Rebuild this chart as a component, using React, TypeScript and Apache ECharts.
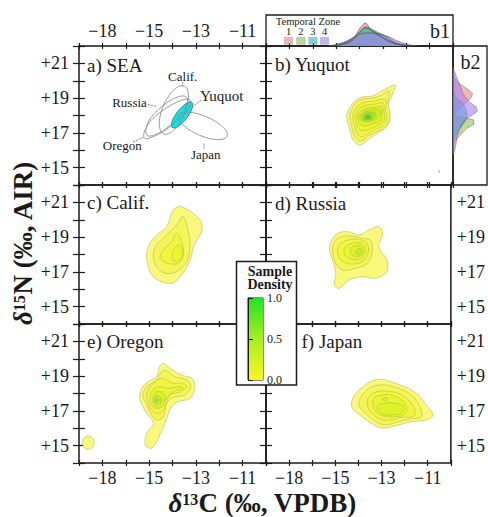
import React, { useEffect, useRef } from 'react';
import * as echarts from 'echarts';

const FONT = '"Liberation Serif", "Times New Roman", serif';
const INK = '#1a1a1a';

// ---- axes ----
const xLabelC = [-18, -15, -13, -11];
const xLabelPos = [1, 3, 5, 7];
const xTickLabels = ['\u221218', '\u221215', '\u221213', '\u221211'];
const yTickVals = [15, 17, 19, 21];
const yTickLabels = ['+15', '+17', '+19', '+21'];
const X_MIN = 0, X_MAX = 8, Y_MIN = 14, Y_MAX = 22;

function xPos(c: number) {
  const n = xLabelC.length;
  let i = 0;
  if (c >= xLabelC[n - 1]) i = n - 2;
  else if (c > xLabelC[0]) { while (c > xLabelC[i + 1]) i++; }
  const c0 = xLabelC[i], c1 = xLabelC[i + 1], p0 = xLabelPos[i], p1 = xLabelPos[i + 1];
  return p0 + (c - c0) * (p1 - p0) / (c1 - c0);
}

// ---- a) SEA ellipses (Yuquot first) ----
const seaNames = ['Yuquot', 'Calif.', 'Russia', 'Oregon', 'Japan'];
const seaC = [-13.59, -13.94, -14.28, -14.28, -12.70];
const seaN = [18.03, 18.32, 17.97, 17.80, 17.40];
const seaA = [0.84, 1.45, 1.40, 1.50, 1.20];
const seaB = [0.26, 0.50, 0.48, 0.44, 0.53];
const seaAngle = [62, 74, 53, 47, -33];

// ---- contour polygons [δ13C, δ15N] with level index ----
const yuquotContours: any[] = [
  [0, [[-14.55,18.03],[-14.28,18.72],[-13.89,19.06],[-13.47,19.12],[-13.04,19.41],[-12.48,19.76],[-12.61,19.18],[-12.78,18.60],[-12.70,17.74],[-12.91,17.28],[-13.21,16.99],[-13.55,16.70],[-13.98,16.30],[-14.28,16.59],[-14.41,17.17],[-14.53,17.74]]],
  [1, [[-14.41,18.03],[-14.19,18.66],[-13.85,18.95],[-13.42,19.01],[-13.04,19.18],[-12.74,19.41],[-12.78,18.78],[-12.70,17.86],[-12.87,17.34],[-13.21,17.11],[-13.55,16.88],[-13.94,16.53],[-14.19,16.76],[-14.32,17.28]]],
  [2, [[-14.28,18.03],[-14.06,18.55],[-13.76,18.78],[-13.38,18.83],[-13.04,18.95],[-12.87,18.89],[-12.87,18.20],[-12.82,17.74],[-12.99,17.40],[-13.29,17.22],[-13.59,16.99],[-13.89,16.76],[-14.11,16.99],[-14.24,17.51]]],
  [3, [[-14.15,18.03],[-13.98,18.43],[-13.68,18.60],[-13.34,18.66],[-12.99,18.72],[-12.95,18.20],[-12.95,17.68],[-13.21,17.45],[-13.55,17.22],[-13.85,17.11],[-14.06,17.28],[-14.15,17.63]]],
  [4, [[-14.06,18.03],[-13.89,18.32],[-13.64,18.43],[-13.29,18.49],[-13.04,18.49],[-13.04,18.03],[-13.12,17.68],[-13.47,17.51],[-13.76,17.40],[-13.98,17.51],[-14.06,17.74]]],
  [5, [[-13.98,17.97],[-13.81,18.26],[-13.55,18.32],[-13.21,18.37],[-13.08,18.20],[-13.21,17.86],[-13.47,17.68],[-13.76,17.63],[-13.94,17.74]]],
  [6, [[-13.89,17.97],[-13.72,18.20],[-13.51,18.20],[-13.34,18.14],[-13.38,17.86],[-13.59,17.74],[-13.81,17.74]]],
  [7, [[-13.81,17.91],[-13.68,18.09],[-13.51,18.03],[-13.51,17.80],[-13.68,17.74],[-13.81,17.80]]],
  [8, [[-13.72,17.91],[-13.64,18.03],[-13.55,17.91],[-13.64,17.80]]],
];
const califContours: any[] = [
  [0, [[-13.61,20.75],[-12.82,19.99],[-12.75,19.31],[-13.04,18.66],[-13.25,17.68],[-13.55,16.94],[-13.98,16.36],[-14.46,16.43],[-14.89,16.82],[-15.15,17.68],[-15.06,18.45],[-14.68,19.12],[-14.25,19.60],[-13.97,20.56]]],
  [1, [[-13.54,20.18],[-13.32,19.31],[-13.25,18.45],[-13.39,17.59],[-13.82,17.01],[-14.32,16.92],[-14.68,17.30],[-14.82,17.97],[-14.68,18.55],[-14.25,19.12],[-13.82,19.70]]],
  [2, [[-13.82,19.22],[-13.61,18.74],[-13.54,17.97],[-13.75,17.49],[-14.18,17.49],[-14.53,17.78],[-14.39,18.26],[-14.03,18.74]]],
  [3, [[-13.75,18.55],[-13.56,18.16],[-13.68,17.68],[-13.97,17.64],[-13.99,18.16]]],
];
const russiaContours: any[] = [
  [0, [[-15.28,18.74],[-14.91,19.22],[-14.41,19.31],[-13.98,19.12],[-13.55,19.41],[-13.12,19.60],[-12.95,19.22],[-13.12,18.45],[-12.77,17.68],[-12.77,17.01],[-13.26,16.63],[-13.84,16.72],[-14.41,16.53],[-14.83,16.05],[-15.07,16.24],[-14.98,16.92],[-15.18,17.68],[-15.39,18.26]]],
  [1, [[-15.07,18.74],[-14.76,19.02],[-14.27,19.06],[-13.84,18.93],[-13.48,18.83],[-13.41,18.16],[-13.62,17.49],[-14.12,17.21],[-14.69,17.11],[-14.98,17.49],[-15.18,18.16]]],
  [2, [[-14.83,18.55],[-14.48,18.83],[-13.98,18.87],[-13.62,18.64],[-13.58,18.07],[-13.84,17.59],[-14.33,17.45],[-14.76,17.68],[-14.91,18.16]]],
  [3, [[-14.55,18.45],[-14.12,18.68],[-13.76,18.55],[-13.69,18.07],[-13.98,17.72],[-14.41,17.78],[-14.62,18.07]]],
  [4, [[-14.33,18.36],[-13.98,18.55],[-13.76,18.26],[-13.91,17.91],[-14.27,17.97]]],
  [5, [[-14.09,18.26],[-13.91,18.36],[-13.84,18.10],[-14.05,17.97]]],
];
const oregonContours: any[] = [
  [0, [[-14.39,19.74],[-14.11,19.45],[-13.61,19.06],[-13.18,18.87],[-13.04,18.39],[-13.25,17.72],[-13.75,17.53],[-14.03,17.24],[-14.25,16.57],[-14.39,16.09],[-14.61,15.42],[-14.89,14.85],[-15.25,15.04],[-15.15,15.71],[-14.82,16.28],[-15.15,16.86],[-15.59,17.63],[-15.48,18.30],[-15.06,18.68],[-14.68,18.97],[-14.56,19.54]]],
  [0, [[-19.27,15.17],[-19.16,15.45],[-18.90,15.56],[-18.64,15.45],[-18.53,15.17],[-18.64,14.89],[-18.90,14.78],[-19.16,14.89]]],
  [1, [[-14.32,19.35],[-13.89,18.97],[-13.39,18.78],[-13.22,18.39],[-13.47,17.91],[-13.97,17.78],[-14.25,17.44],[-14.39,16.66],[-14.68,16.47],[-14.89,16.76],[-15.15,17.34],[-15.41,17.91],[-15.15,18.39],[-14.68,18.78],[-14.46,19.26]]],
  [2, [[-14.46,18.87],[-13.97,18.59],[-13.54,18.59],[-13.39,18.39],[-13.68,18.10],[-14.11,17.91],[-14.32,17.24],[-14.53,16.86],[-14.82,16.95],[-15.06,17.44],[-15.15,18.01],[-14.89,18.49]]],
  [3, [[-14.61,18.39],[-14.18,18.30],[-13.68,18.39],[-13.54,18.30],[-13.97,18.10],[-14.32,17.63],[-14.53,17.15],[-14.82,17.21],[-14.96,17.63],[-14.89,18.10]]],
  [4, [[-14.68,18.10],[-14.39,18.01],[-14.32,17.63],[-14.46,17.24],[-14.75,17.28],[-14.85,17.67]]],
  [5, [[-14.71,17.86],[-14.50,17.78],[-14.50,17.44],[-14.71,17.40],[-14.79,17.63]]],
  [6, [[-14.68,17.72],[-14.58,17.63],[-14.68,17.49],[-14.76,17.63]]],
];
const japanContours: any[] = [
  [0, [[-13.98,18.20],[-13.48,18.68],[-12.98,18.82],[-12.41,18.59],[-11.84,18.30],[-11.41,17.91],[-11.06,17.34],[-10.77,16.76],[-11.06,16.47],[-11.70,16.38],[-12.27,16.19],[-12.91,16.00],[-13.34,16.19],[-13.84,16.66],[-14.27,17.15],[-14.27,17.63]]],
  [1, [[-13.84,17.91],[-13.41,18.39],[-12.84,18.49],[-12.27,18.30],[-11.70,17.91],[-11.34,17.24],[-11.27,16.66],[-11.77,16.53],[-12.27,16.38],[-12.84,16.19],[-13.26,16.38],[-13.69,16.86],[-13.98,17.34]]],
  [2, [[-13.55,17.82],[-13.20,18.10],[-12.77,18.14],[-12.27,18.01],[-11.84,17.63],[-11.55,17.05],[-11.63,16.66],[-12.13,16.63],[-12.55,16.47],[-13.05,16.51],[-13.41,16.86],[-13.62,17.34]]],
  [3, [[-13.34,17.72],[-12.98,17.91],[-12.55,17.91],[-12.13,17.63],[-11.91,17.15],[-12.05,16.76],[-12.55,16.66],[-13.05,16.76],[-13.34,17.15]]],
  [4, [[-13.20,17.24],[-12.91,17.44],[-12.41,17.44],[-12.05,17.28],[-12.13,16.86],[-12.55,16.76],[-12.98,16.82]]],
  [4, [[-12.97,17.68],[-12.84,17.76],[-12.71,17.68],[-12.84,17.60]]],
];
const yuquotStray = [[-10.6, 14.77]];

// ---- marginal densities b1 (δ13C) and b2 (δ15N) by temporal zone ----
const zoneNames = ['1', '2', '3', '4'];
const zoneColors = ['#f08585', '#8fc04e', '#2fb8b8', '#a282f0'];
const b1C = [-15.5,-15.25,-15,-14.75,-14.5,-14.25,-14,-13.75,-13.5,-13.25,-13,-12.75,-12.5,-12.25,-12,-11.75,-11.5];
const b1Zone1 = [0,0,0.02,0.05,0.12,0.25,0.55,0.74,0.5,0.36,0.26,0.17,0.1,0.05,0.02,0,0];
const b1Zone2 = [0,0.01,0.03,0.08,0.15,0.28,0.45,0.58,0.52,0.4,0.28,0.16,0.08,0.03,0.01,0,0];
const b1Zone3 = [0,0,0.02,0.05,0.1,0.2,0.42,0.62,0.55,0.45,0.36,0.24,0.12,0.05,0.02,0,0];
const b1Zone4 = [0,0.02,0.05,0.1,0.18,0.28,0.38,0.42,0.42,0.4,0.36,0.3,0.2,0.12,0.06,0.02,0];
const b2N = [15.75,16,16.25,16.5,16.75,17,17.25,17.5,17.75,18,18.25,18.5,18.75,19,19.25,19.5,19.75,20,20.25,20.5,20.75];
const b2Zone1 = [0,0,0,0,0,0,0,0,0.02,0.05,0.12,0.25,0.4,0.52,0.58,0.45,0.25,0.1,0.03,0,0];
const b2Zone2 = [0,0,0,0.06,0.15,0.28,0.4,0.62,0.6,0.12,0.02,0,0,0,0,0,0,0,0,0,0];
const b2Zone3 = [0,0,0,0,0.05,0.12,0.2,0.3,0.38,0.42,0.4,0.35,0.25,0.1,0.03,0,0,0,0,0,0];
const b2Zone4 = [0.02,0.05,0.08,0.1,0.12,0.15,0.2,0.25,0.35,0.55,0.72,0.68,0.5,0.38,0.3,0.25,0.2,0.15,0.1,0.05,0];

// ---- colour bar ----
const densityTicks = [0, 0.5, 1];

const levelFill = ['#f8f87a', '#f5f556', '#f1f53e', '#e9f52e', '#dcf326', '#c6ef22', '#a2e920', '#70e020', '#38d828'];
const contourStroke = '#b2b262';

const PANELS = [
  { left: 79, top: 46 }, { left: 266, top: 46 },
  { left: 79, top: 185 }, { left: 266, top: 185 },
  { left: 79, top: 324 }, { left: 266, top: 324 },
];
const PW = 187, PH = 139;

function App() {
  const ref = useRef<HTMLDivElement>(null);
  useEffect(() => {
    const chart = echarts.init(ref.current!, null, { renderer: 'svg' });

    const grids: any[] = PANELS.map(p => ({
      left: p.left, top: p.top, width: PW, height: PH,
      show: true, borderColor: INK, borderWidth: 1.5, backgroundColor: 'transparent',
    }));
    grids.push({ left: 266, top: 15, width: 187, height: 31, show: true, borderColor: INK, borderWidth: 1.3 });
    grids.push({ left: 453, top: 46, width: 34, height: 139, show: true, borderColor: INK, borderWidth: 1.3 });
    grids.push({ left: 248, top: 298, width: 15, height: 82, show: true, borderColor: INK, borderWidth: 1, z: 60 });

    const tickStyle = { show: true, inside: true, length: 6, lineStyle: { color: INK, width: 1.2 } };
    const xFmt = (v: number) => { const i = xLabelPos.indexOf(Math.round(v * 1000) / 1000); return i >= 0 ? xTickLabels[i] : ''; };
    const yFmt = (v: number) => { const i = yTickVals.indexOf(Math.round(v * 1000) / 1000); return i >= 0 ? yTickLabels[i] : ''; };
    const labelStyle = { fontSize: 18, fontFamily: FONT, color: INK };

    const xAxes: any[] = [];
    const yAxes: any[] = [];
    PANELS.forEach((_, p) => {
      xAxes.push({ type: 'value', gridIndex: p, position: 'bottom', min: X_MIN, max: X_MAX, interval: 1, offset: 3,
        axisLine: { show: false }, axisTick: tickStyle, splitLine: { show: false },
        axisLabel: { show: p >= 4, margin: 3, formatter: xFmt, ...labelStyle } });
      xAxes.push({ type: 'value', gridIndex: p, position: 'top', min: X_MIN, max: X_MAX, interval: 1, offset: 3,
        axisLine: { show: false }, axisTick: tickStyle, splitLine: { show: false },
        axisLabel: { show: p === 0, margin: 3, formatter: xFmt, ...labelStyle } });
      yAxes.push({ type: 'value', gridIndex: p, position: 'left', min: Y_MIN, max: Y_MAX, interval: 1, offset: 3,
        axisLine: { show: false }, axisTick: tickStyle, splitLine: { show: false },
        axisLabel: { show: p % 2 === 0, margin: 7, formatter: yFmt, ...labelStyle } });
      yAxes.push({ type: 'value', gridIndex: p, position: 'right', min: Y_MIN, max: Y_MAX, interval: 1, offset: 3,
        axisLine: { show: false }, axisTick: tickStyle, splitLine: { show: false },
        axisLabel: { show: p === 3 || p === 5, margin: 3, formatter: yFmt, ...labelStyle } });
    });
    // b1
    xAxes.push({ type: 'value', gridIndex: 6, min: X_MIN, max: X_MAX, show: false });
    yAxes.push({ type: 'value', gridIndex: 6, min: 0, max: 1, show: false });
    // b2
    xAxes.push({ type: 'value', gridIndex: 7, min: 0, max: 1, show: false });
    yAxes.push({ type: 'value', gridIndex: 7, min: Y_MIN, max: Y_MAX, show: false });
    // colour bar
    xAxes.push({ type: 'value', gridIndex: 8, min: 0, max: 1, show: false });
    yAxes.push({ type: 'value', gridIndex: 8, position: 'right', min: 0, max: 1, interval: 0.5, z: 60,
      axisLine: { show: true, lineStyle: { color: INK, width: 1 } },
      axisTick: { show: true, inside: false, length: 5, lineStyle: { color: INK, width: 1 } },
      splitLine: { show: false },
      axisLabel: { margin: 4, fontSize: 12, fontFamily: FONT, color: INK,
        formatter: (v: number) => densityTicks.indexOf(v) >= 0 ? v.toFixed(1) : '' } });

    const contourSeries = (panel: number, contours: any[]) => ({
      type: 'custom', coordinateSystem: 'cartesian2d', xAxisIndex: panel * 2, yAxisIndex: panel * 2,
      silent: true, z: 2,
      data: contours.map((c: any) => [xPos(c[1][0][0]), c[1][0][1], c[0]]),
      renderItem: (params: any, api: any) => {
        const c = contours[params.dataIndex];
        const pts = c[1].map((q: number[]) => api.coord([xPos(q[0]), q[1]]));
        return { type: 'polygon', shape: { points: pts, smooth: 0.35 },
          style: { fill: levelFill[c[0]], stroke: contourStroke, lineWidth: 0.55 } };
      },
    });

    const series: any[] = [];
    // a) ellipses
    series.push({
      type: 'custom', coordinateSystem: 'cartesian2d', xAxisIndex: 0, yAxisIndex: 0, silent: true, z: 2,
      data: seaNames.map((_, i) => [xPos(seaC[i]), seaN[i]]),
      renderItem: (params: any, api: any) => {
        const i = params.dataIndex;
        const th = seaAngle[i] * Math.PI / 180;
        const pts: any[] = [];
        for (let k = 0; k < 96; k++) {
          const f = 2 * Math.PI * k / 96;
          const dx = seaA[i] * Math.cos(f) * Math.cos(th) - seaB[i] * Math.sin(f) * Math.sin(th);
          const dy = seaA[i] * Math.cos(f) * Math.sin(th) + seaB[i] * Math.sin(f) * Math.cos(th);
          pts.push(api.coord([xPos(seaC[i] + dx), seaN[i] + dy]));
        }
        return { type: 'polygon', shape: { points: pts },
          style: i === 0 ? { fill: '#00eaf0', stroke: '#555', lineWidth: 0.8 }
                         : { fill: 'none', stroke: '#8a8a8a', lineWidth: 0.9 } };
      },
    });
    series.push(contourSeries(1, yuquotContours));
    series.push(contourSeries(2, califContours));
    series.push(contourSeries(3, russiaContours));
    series.push(contourSeries(4, oregonContours));
    series.push(contourSeries(5, japanContours));
    series.push({ type: 'scatter', xAxisIndex: 2, yAxisIndex: 2, silent: true,
      data: yuquotStray.map(q => [xPos(q[0]), q[1]]), symbolSize: 2, itemStyle: { color: '#999' } });

    // b1 marginal
    const b1Zones = [b1Zone1, b1Zone2, b1Zone3, b1Zone4];
    b1Zones.forEach((vals, z) => {
      series.push({ type: 'line', name: zoneNames[z], xAxisIndex: 12, yAxisIndex: 12, silent: true,
        data: b1C.map((c, i) => [xPos(c), vals[i]]), smooth: 0.3, symbol: 'none',
        lineStyle: { color: '#4a4a4a', width: 0.6 },
        areaStyle: { color: zoneColors[z], opacity: 0.6 } });
    });
    // b2 marginal
    const b2Zones = [b2Zone1, b2Zone2, b2Zone3, b2Zone4];
    series.push({
      type: 'custom', coordinateSystem: 'cartesian2d', xAxisIndex: 13, yAxisIndex: 13, silent: true,
      data: b2Zones.map((_, z) => [0, b2N[0], z]),
      renderItem: (params: any, api: any) => {
        const z = params.dataIndex;
        const vals = b2Zones[z];
        const pts: any[] = [api.coord([0, b2N[0]])];
        b2N.forEach((n, i) => pts.push(api.coord([vals[i], n])));
        pts.push(api.coord([0, b2N[b2N.length - 1]]));
        return { type: 'polygon', shape: { points: pts },
          style: { fill: zoneColors[z], opacity: 0.6, stroke: '#4a4a4a', lineWidth: 0.6 } };
      },
    });
    // colour bar
    series.push({
      type: 'custom', coordinateSystem: 'cartesian2d', xAxisIndex: 14, yAxisIndex: 14, silent: true, z: 60,
      data: [[0, 0]],
      renderItem: (params: any, api: any) => {
        const p0 = api.coord([0, 1]);
        const p1 = api.coord([1, 0]);
        return { type: 'rect', shape: { x: p0[0], y: p0[1], width: p1[0] - p0[0], height: p1[1] - p0[1] },
          style: { fill: new echarts.graphic.LinearGradient(0, 0, 0, 1, [
            { offset: 0, color: '#1fe61f' }, { offset: 0.5, color: '#a6ef22' }, { offset: 1, color: '#f8f81c' }]) } };
      },
    });

    const txt = (text: string, x: number, y: number, size: number, extra: any = {}) => ({
      type: 'text', x, y, z: 70,
      style: { text, fontSize: size, fontFamily: FONT, fill: INK, align: 'left', verticalAlign: 'middle', ...extra },
    });
    const line = (x1: number, y1: number, x2: number, y2: number) => ({
      type: 'line', z: 70, shape: { x1, y1, x2, y2 }, style: { stroke: '#666', lineWidth: 0.8, lineDash: [2, 1] },
    });
    const titleRich = {
      d: { fontSize: 27, lineHeight: 24, fontFamily: FONT, fontWeight: 'bold', fontStyle: 'italic', fill: INK },
      s: { fontSize: 16, lineHeight: 24, fontFamily: FONT, fontWeight: 'bold', verticalAlign: 'top', fill: INK, padding: [0, 0, 6, 0] },
      m: { fontSize: 27, lineHeight: 24, fontFamily: FONT, fontWeight: 'bold', fill: INK },
    };

    const graphic: any[] = [
      // panel labels
      txt('a) SEA', 87, 65, 19), txt('b) Yuquot', 275, 64, 19),
      txt('c) Calif.', 87, 202.5, 19), txt('d) Russia', 275, 203, 19),
      txt('e) Oregon', 87, 341.5, 19), txt('f) Japan', 301.5, 341, 19),
      // SEA labels
      txt('Calif.', 182.7, 76, 13, { align: 'center' }),
      txt('Russia', 129.5, 102.7, 13, { align: 'center' }),
      txt('Yuquot', 221.7, 96, 15, { align: 'center' }),
      txt('Oregon', 122.3, 145.7, 13, { align: 'center' }),
      txt('Japan', 205.7, 154, 13, { align: 'center' }),
      line(182.7, 82, 182.7, 86.5), line(148, 104.5, 156.5, 106.5), line(201, 100.5, 193, 106),
      line(133, 142, 144, 137), line(204, 143.5, 204, 148.5),
      // b1 / b2
      txt('b1', 440, 31, 20, { align: 'center' }),
      txt('b2', 470.5, 62, 20, { align: 'center' }),
      txt('Temporal Zone', 308, 21.5, 10.5, { align: 'center' }),
      // colour bar box
      { type: 'rect', z: 50, shape: { x: 236.5, y: 261.5, width: 60, height: 123.5 },
        style: { fill: '#fff', stroke: INK, lineWidth: 1.5 } },
      txt('Sample\nDensity', 270, 278, 14, { align: 'center', fontWeight: 'bold', lineHeight: 13.5 }),
      // axis titles
      { type: 'text', x: 262.5, y: 503, z: 70,
        style: { text: '{d|\u03b4}{s|13}{m|C (\u2030, VPDB)}', align: 'center', verticalAlign: 'middle', fill: INK, rich: titleRich } },
      { type: 'text', x: 23, y: 243, z: 70, rotation: Math.PI / 2,
        style: { text: '{d|\u03b4}{s|15}{m|N (\u2030, AIR)}', align: 'center', verticalAlign: 'middle', fill: INK, rich: titleRich } },
    ];
    const legX = [284.3, 296.7, 308.7, 320.3];
    zoneNames.forEach((nm, z) => {
      graphic.push(txt(nm, legX[z] + 4.2, 31.5, 10.5, { align: 'center' }));
      graphic.push({ type: 'rect', z: 70, shape: { x: legX[z], y: 37.3, width: 8.4, height: 7 },
        style: { fill: zoneColors[z], opacity: 0.6, stroke: '#888', lineWidth: 0.6 } });
    });

    chart.setOption({
      animation: false,
      backgroundColor: '#fff',
      grid: grids,
      xAxis: xAxes,
      yAxis: yAxes,
      series,
      graphic,
    });
    return () => chart.dispose();
  }, []);
  return <div ref={ref} style={{ position: 'absolute', left: 0, top: 0, width: 488, height: 517, background: '#fff' }} />;
}

export default App;
